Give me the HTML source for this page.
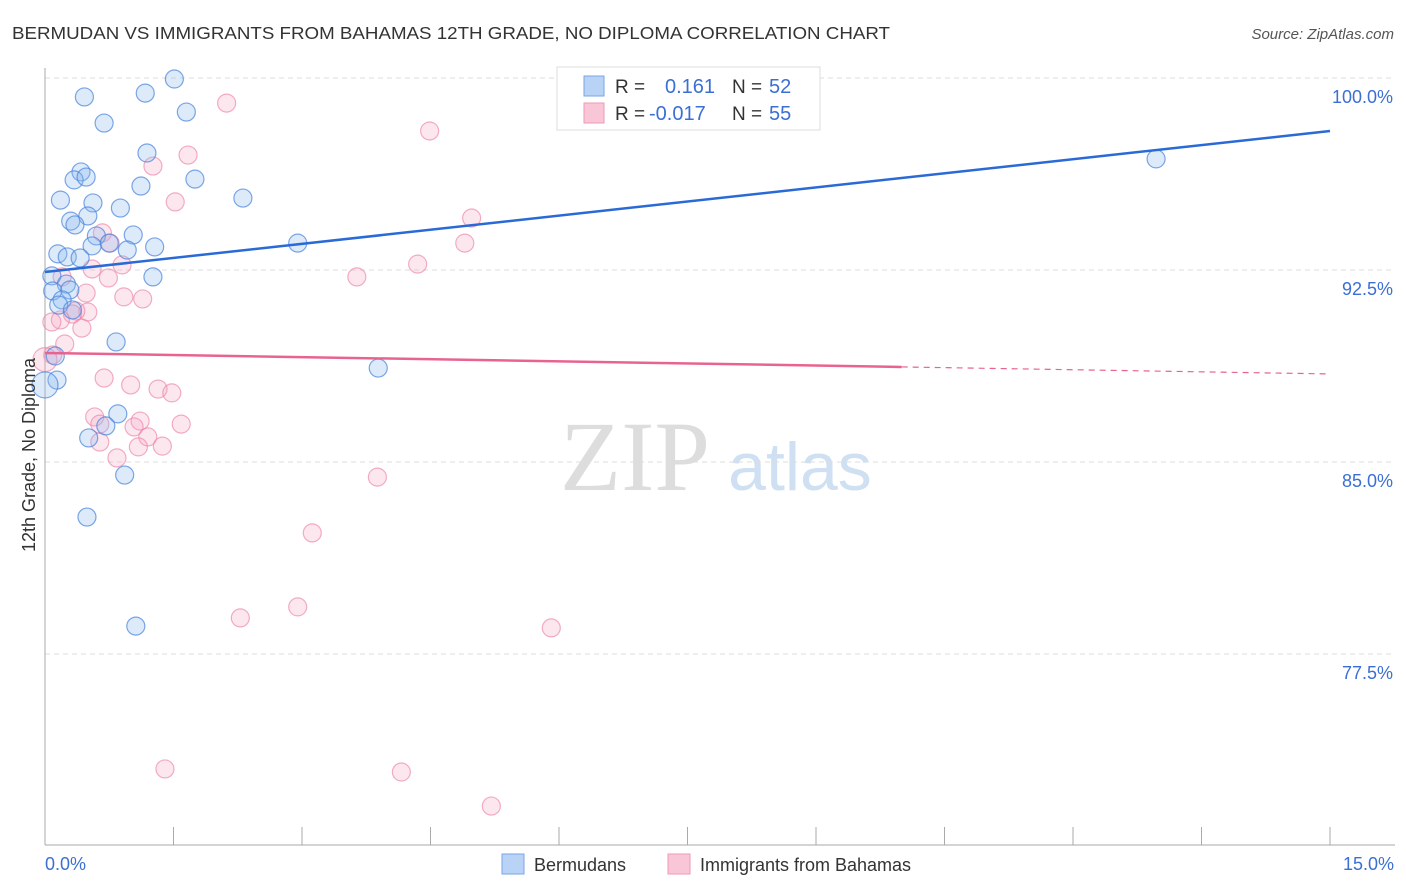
<!DOCTYPE html>
<html><head><meta charset="utf-8"><style>
body{margin:0;background:#fff;font-family:"Liberation Sans",sans-serif}
svg{display:block}
</style></head><body>
<svg id="chart" width="1406" height="892">
<text x="12" y="39" font-size="17.5" fill="#333" textLength="878" lengthAdjust="spacingAndGlyphs">BERMUDAN VS IMMIGRANTS FROM BAHAMAS 12TH GRADE, NO DIPLOMA CORRELATION CHART</text>
<text x="1394" y="39" font-size="15" fill="#555" font-style="italic" text-anchor="end">Source: ZipAtlas.com</text>
<text x="635" y="490" font-size="100" fill="#ddd" font-family="Liberation Serif,serif" text-anchor="middle">ZIP</text>
<text x="800" y="490" font-size="68" fill="#cfe0f3" text-anchor="middle">atlas</text>
<g id="grid"></g><g id="axes"></g><g id="pts"></g><g id="lines"></g>
<text transform="translate(35,455) rotate(-90)" font-size="18" fill="#333" text-anchor="middle">12th Grade, No Diploma</text>
<text x="45" y="870" font-size="18" fill="#3b6fd4">0.0%</text>
<text x="1394" y="870" font-size="18" fill="#3b6fd4" text-anchor="end">15.0%</text>
<g>
<rect x="557" y="67" width="263" height="63" fill="#fff" stroke="#ddd"/>
<rect x="584" y="76" width="20" height="20" fill="#b8d3f5" stroke="#7aa6e6"/>
<rect x="584" y="103" width="20" height="20" fill="#f8c6d6" stroke="#ee9ab5"/>
<text x="615" y="93" font-size="19" fill="#333">R = </text><text x="665" y="93" font-size="20" fill="#3b6fd4">0.161</text>
<text x="732" y="93" font-size="19" fill="#333">N = </text><text x="769" y="93" font-size="20" fill="#3b6fd4">52</text>
<text x="615" y="120" font-size="19" fill="#333">R = </text><text x="649" y="120" font-size="20" fill="#3b6fd4">-0.017</text>
<text x="732" y="120" font-size="19" fill="#333">N = </text><text x="769" y="120" font-size="20" fill="#3b6fd4">55</text>
</g>
<g>
<rect x="502" y="854" width="22" height="20" fill="#b8d3f5" stroke="#7aa6e6"/>
<text x="534" y="871" font-size="18" fill="#333">Bermudans</text>
<rect x="668" y="854" width="22" height="20" fill="#f8c6d6" stroke="#ee9ab5"/>
<text x="700" y="871" font-size="18" fill="#333">Immigrants from Bahamas</text>
</g>
</svg>
<script>
const yTicks=[100,92.5,85,77.5];
const yTickLabels=["100.0%","92.5%","85.0%","77.5%"];
const xTicks=[0,1.5,3,4.5,6,7.5,9,10.5,12,13.5,15];
const blueX=[.46,1.17,1.51,1.65,.69,1.19,.42,.34,.48,1.12,1.75,.18,.56,.88,2.31,.30,.50,.35,.60,1.03,.55,.75,.96,1.28,.15,.26,.41,2.95,1.26,.08,.25,.09,.29,.20,.16,.32,.83,3.89,.12,.14,0,.85,.51,.71,.93,.49,1.06,12.97];
const blueY=[99.26,99.41,99.96,98.67,98.24,97.07,96.33,96.02,96.13,95.78,96.05,95.23,95.12,94.92,95.31,94.41,94.61,94.26,93.83,93.87,93.44,93.55,93.28,93.40,93.13,93.01,92.97,93.55,92.23,92.27,91.95,91.68,91.72,91.33,91.13,90.94,89.69,88.67,89.14,88.20,88.01,86.88,85.94,86.41,84.49,82.85,78.59,96.84];
const pinkX=[2.12,1.26,4.49,1.67,1.52,4.98,4.90,.67,.76,.90,.55,.74,4.35,3.64,.20,.48,.92,1.14,.50,.36,.32,.18,.08,.43,.23,.09,.69,1.00,1.32,1.48,.58,.64,1.11,1.04,1.59,1.20,.64,1.09,1.37,.84,3.88,3.12,2.95,2.28,5.91,1.40,4.16,5.21,6.85,8.85,0];
const pinkY=[99.02,96.56,97.93,96.99,95.16,94.53,93.55,93.95,93.55,92.70,92.54,92.19,92.73,92.23,92.23,91.60,91.45,91.37,90.86,90.90,90.78,90.55,90.47,90.23,89.61,89.18,88.28,88.01,87.85,87.70,86.76,86.48,86.60,86.37,86.48,85.98,85.78,85.59,85.62,85.16,84.41,82.23,79.34,78.91,78.52,73.01,72.89,71.56,99.92,99.92,89.0];
const blueTrend=[92.42,97.93];
const pinkTrend=[89.26,88.44];
const pinkSolidEnd=10;
const X=v=>45+v/15*1285, Y=v=>78+(100-v)*25.6;
const NS="http://www.w3.org/2000/svg";
function mk(p,t,a){const e=document.createElementNS(NS,t);for(const k in a)e.setAttribute(k,a[k]);document.getElementById(p).appendChild(e);return e;}
yTicks.forEach((t,i)=>{
 const l=mk('grid','line',{x1:45,x2:1395,y1:Y(t),y2:Y(t),stroke:'#ddd','stroke-dasharray':'5,4'});
 
 
 const s=mk('grid','text',{x:1393,y:Y(t)+25,'font-size':18,fill:'#3b6fd4','text-anchor':'end'});
 s.textContent=yTickLabels[i];
 
 
});
const ax=mk('axes','line',{x1:45,x2:45,y1:68,y2:845,stroke:'#aaa'});


const bx=mk('axes','line',{x1:45,x2:1395,y1:845,y2:845,stroke:'#aaa'});


xTicks.forEach(t=>{
 const l=mk('axes','line',{x1:X(t),x2:X(t),y1:827,y2:845,stroke:'#aaa'});
 
 
});
pinkX.forEach((v,i)=>{
 const big=(v===0);
 const c=mk('pts','circle',{cx:X(v),cy:Y(pinkY[i]),r:big?12:9,fill:'rgba(244,160,190,0.25)',stroke:'rgba(236,130,165,0.65)','stroke-width':1.2});
 
 
});
blueX.forEach((v,i)=>{
 const big=(v===0);
 const c=mk('pts','circle',{cx:X(v),cy:Y(blueY[i]),r:big?13:9,fill:'rgba(140,185,240,0.3)',stroke:'rgba(70,130,220,0.7)','stroke-width':1.2});
 
 
});
const bl=mk('lines','line',{x1:X(0),y1:Y(blueTrend[0]),x2:X(15),y2:Y(blueTrend[1]),stroke:'#2a6ad6','stroke-width':2.5});


const pm=pinkTrend[0]+(pinkTrend[1]-pinkTrend[0])*pinkSolidEnd/15;
const pl=mk('lines','line',{x1:X(0),y1:Y(pinkTrend[0]),x2:X(pinkSolidEnd),y2:Y(pm),stroke:'#e8648e','stroke-width':2.5});


const pd=mk('lines','line',{x1:X(pinkSolidEnd),y1:Y(pm),x2:X(15),y2:Y(pinkTrend[1]),stroke:'#e8648e','stroke-width':1.2,'stroke-dasharray':'6,5'});


</script>
</body></html>
